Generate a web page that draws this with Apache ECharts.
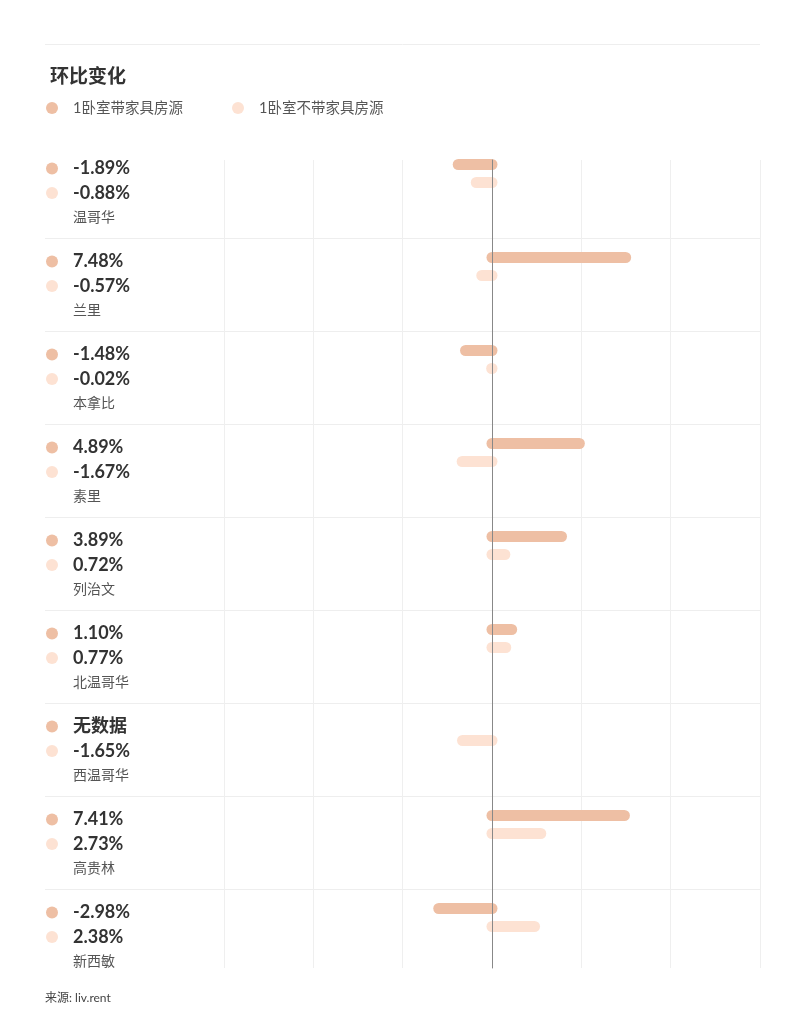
<!DOCTYPE html>
<html><head><meta charset="utf-8">
<script src="https://cdn.jsdelivr.net/npm/echarts@6/dist/echarts.min.js"></script>
<style>html,body{margin:0;padding:0;background:#fff}#c{width:805px;height:1024px}</style>
</head><body><div id="c"></div>
<script>
const cities = ['温哥华','兰里','本拿比','素里','列治文','北温哥华','西温哥华','高贵林','新西敏'];
const furnished = [-1.89, 7.48, -1.48, 4.89, 3.89, 1.10, null, 7.41, -2.98];
const unfurnished = [-0.88, -0.57, -0.02, -1.67, 0.72, 0.77, -1.65, 2.73, 2.38];
const seriesNames = ['1卧室带家具房源', '1卧室不带家具房源'];
const xMin = -15, xMax = 15, xInterval = 5;
const noDataText = '无数据';
const titleText = '环比变化';
const sourceText = '来源: liv.rent';

const C1 = '#EEBFA4', C2 = '#FDE2D3';
const fmt = v => v == null ? noDataText : v.toFixed(2) + '%';
const FONT = "Lato, 'Noto Sans CJK SC', sans-serif";

function barRender(offset) {
  return function (params, api) {
    const v = api.value(0), i = api.value(1);
    const p0 = api.coord([0, i]), p1 = api.coord([v, i]);
    const r = 5.5;
    const xa = Math.min(p0[0], p1[0]) - r, xb = Math.max(p0[0], p1[0]) + r;
    const yc = p0[1] + offset;
    return { type: 'rect', shape: { x: xa, y: yc - r, width: xb - xa, height: 2 * r, r: r },
             style: { fill: api.visual('color') } };
  };
}
const toData = arr => arr.map((v, i) => v == null ? null : [v, i]).filter(Boolean);

const chart = echarts.init(document.getElementById('c'));
chart.setOption({
  animation: false,
  backgroundColor: '#fff',
  title: [
    { text: titleText, left: 50, top: 66, padding: 0,
      textStyle: { fontSize: 19, fontWeight: 'bold', color: '#333', fontFamily: FONT, lineHeight: 22 } },
    { text: sourceText, left: 45, top: 991, padding: 0,
      textStyle: { fontSize: 12, fontWeight: 'normal', color: '#444', fontFamily: FONT, lineHeight: 14 } }
  ],
  legend: {
    left: 46, top: 100, padding: 0, icon: 'circle', itemWidth: 12, itemHeight: 12, itemGap: 9,
    selectedMode: false,
    data: seriesNames,
    textStyle: { fontSize: 14.5, color: '#555', fontFamily: FONT, lineHeight: 16, padding: [0, 0, 0, 10], width: 150 }
  },
  graphic: [
    { type: 'line', shape: { x1: 45, y1: 44.5, x2: 760, y2: 44.5 }, style: { stroke: '#EEEEEE', lineWidth: 1 } }
  ],
  grid: [
    { left: 45, right: 45, top: 145, bottom: 42, outerBoundsMode: 'none', containLabel: false },
    { left: 224, right: 45, top: 145, bottom: 42, outerBoundsMode: 'none', containLabel: false },
    { left: 224, right: 45, top: 160, bottom: 56, outerBoundsMode: 'none', containLabel: false }
  ],
  xAxis: [
    { gridIndex: 0, type: 'value', show: false },
    { gridIndex: 1, type: 'value', min: xMin, max: xMax, interval: xInterval, show: false },
    { gridIndex: 2, type: 'value', min: xMin, max: xMax, interval: xInterval, z: 0,
      axisLine: { show: false }, axisTick: { show: false }, axisLabel: { show: false },
      splitLine: { show: true, lineStyle: { color: '#EFEFEF', width: 1 } } }
  ],
  yAxis: [
    { gridIndex: 0, type: 'category', data: cities, inverse: true,
      axisLine: { show: false }, axisTick: { show: false },
      splitLine: { show: true, showMinLine: false, showMaxLine: false, lineStyle: { color: '#EEEEEE', width: 1 } },
      axisLabel: {
        inside: true, margin: 1, interval: 0, align: 'left', padding: [3, 0, 0, 0],
        formatter: function (value) {
          const i = cities.indexOf(value);
          return '{d1| }{sp| }{v|' + fmt(furnished[i]) + '}\n' +
                 '{d2| }{sp| }{v|' + fmt(unfurnished[i]) + '}\n' +
                 '{sp2| }{c|' + value + '}';
        },
        rich: {
          d1: { width: 12, height: 12, backgroundColor: C1, borderRadius: 6, lineHeight: 24.5, verticalAlign: 'middle' },
          d2: { width: 12, height: 12, backgroundColor: C2, borderRadius: 6, lineHeight: 24.5, verticalAlign: 'middle' },
          sp: { width: 15, lineHeight: 24.5 },
          sp2: { width: 27, lineHeight: 24.5 },
          v: { fontSize: 18, fontWeight: 'bold', color: '#333', fontFamily: FONT, lineHeight: 24.5 },
          c: { fontSize: 14, color: '#555', fontFamily: FONT, lineHeight: 24.5 }
        }
      } },
    { gridIndex: 1, type: 'category', data: cities, inverse: true, show: false },
    { gridIndex: 2, type: 'value', min: 0, max: 1, z: 5,
      axisLine: { show: true, onZero: true, lineStyle: { color: '#888888', width: 1 } },
      axisTick: { show: false }, axisLabel: { show: false }, splitLine: { show: false } }
  ],
  series: [
    { name: seriesNames[0], type: 'custom', xAxisIndex: 1, yAxisIndex: 1, color: C1, z: 2,
      renderItem: barRender(-27), encode: { x: 0, y: 1 }, data: toData(furnished) },
    { name: seriesNames[1], type: 'custom', xAxisIndex: 1, yAxisIndex: 1, color: C2, z: 2,
      renderItem: barRender(-9), encode: { x: 0, y: 1 }, data: toData(unfurnished) }
  ]
});
</script></body></html>
